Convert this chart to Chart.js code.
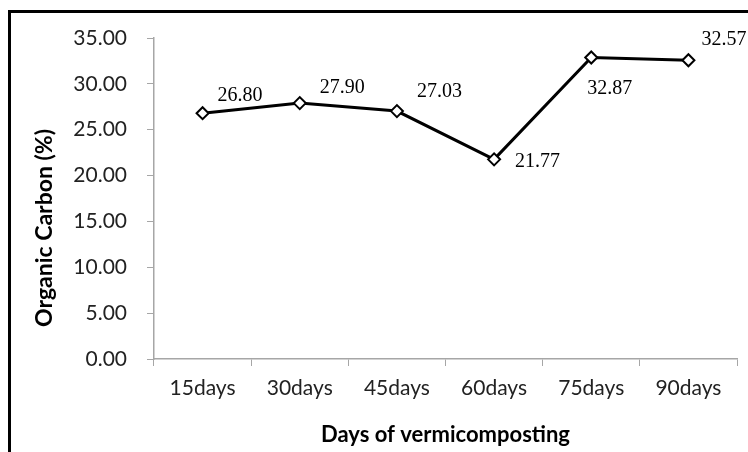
<!DOCTYPE html>
<html>
<head>
<meta charset="utf-8">
<script src="https://cdn.jsdelivr.net/npm/chart.js@4.4.0/dist/chart.umd.min.js"></script>
<style>
  html, body { margin: 0; padding: 0; background: #fff; }
  #wrap { width: 748px; height: 452px; position: relative; }
</style>
</head>
<body>
<div id="wrap"><canvas id="ocChart" width="748" height="452"></canvas></div>
<script>
var days = ["15days", "30days", "45days", "60days", "75days", "90days"];
var organicCarbon = [26.80, 27.90, 27.03, 21.77, 32.87, 32.57];
var yTicks = [0, 5, 10, 15, 20, 25, 30, 35];

// where each value label sits relative to its point (left edge, baseline)
var labelOffsets = [[15, -12], [20, -10], [20, -14], [21, 8], [-4, 36], [13, -15]];

var frame = {
  id: 'frame',
  afterDraw: function (chart) {
    var ctx = chart.ctx;
    ctx.save();
    ctx.strokeStyle = '#000';
    ctx.lineWidth = 3;
    ctx.strokeRect(9.5, 11.5, 900, 600);
    ctx.restore();
  }
};

var valueLabels = {
  id: 'valueLabels',
  afterDatasetsDraw: function (chart) {
    var ctx = chart.ctx;
    var pts = chart.getDatasetMeta(0).data;
    ctx.save();
    ctx.font = '20px "Liberation Serif", "Times New Roman", serif';
    ctx.fillStyle = '#000';
    ctx.textAlign = 'left';
    ctx.textBaseline = 'alphabetic';
    pts.forEach(function (p, i) {
      ctx.fillText(organicCarbon[i].toFixed(2), p.x + labelOffsets[i][0], p.y + labelOffsets[i][1]);
    });
    ctx.restore();
  }
};

var yTitle = {
  id: 'yTitle',
  afterDraw: function (chart) {
    var ctx = chart.ctx;
    ctx.save();
    ctx.translate(45, 228);
    ctx.rotate(-Math.PI / 2);
    ctx.font = 'bold 23px Lato, sans-serif';
    ctx.fillStyle = '#000';
    ctx.textAlign = 'center';
    ctx.textBaseline = 'middle';
    ctx.fillText('Organic Carbon (%)', 0, 0);
    ctx.restore();
  }
};

var ctx = document.getElementById("ocChart").getContext("2d");
new Chart(ctx, {
  type: 'line',
  data: {
    labels: days,
    datasets: [{
      label: 'Organic Carbon (%)',
      data: organicCarbon,
      borderColor: '#000',
      borderWidth: 3,
      tension: 0,
      pointStyle: 'rectRot',
      pointRadius: 6,
      pointBorderWidth: 2,
      pointBackgroundColor: '#fff',
      pointBorderColor: '#000'
    }]
  },
  options: {
    responsive: false,
    animation: false,
    layout: { padding: { left: 0, top: 38, right: 11, bottom: 0 } },
    plugins: {
      legend: { display: false },
      tooltip: { enabled: false }
    },
    scales: {
      x: {
        offset: true,
        grid: { offset: true, drawOnChartArea: false, color: '#a6a6a6', tickLength: 7 },
        border: { color: '#a6a6a6', width: 1.5 },
        ticks: { color: '#222', font: { family: 'Lato', size: 21 }, padding: 10, maxRotation: 0 },
        title: {
          display: true, text: 'Days of vermicomposting', color: '#000',
          font: { family: 'Lato', size: 22, weight: 'bold' }, padding: { top: 6 }
        },
        afterFit: function (s) { s.height = 93; }
      },
      y: {
        min: 0, max: 35,
        afterBuildTicks: function (s) { s.ticks = yTicks.map(function (v) { return { value: v }; }); },
        grid: { drawOnChartArea: false, color: '#a6a6a6', tickLength: 7 },
        border: { color: '#a6a6a6', width: 1.5 },
        ticks: {
          color: '#222', font: { family: 'Lato', size: 21 }, padding: 20,
          callback: function (v) { return v.toFixed(2); }
        },
        afterFit: function (s) { s.width = 154; }
      }
    }
  },
  plugins: [frame, valueLabels, yTitle]
});
</script>
</body>
</html>
